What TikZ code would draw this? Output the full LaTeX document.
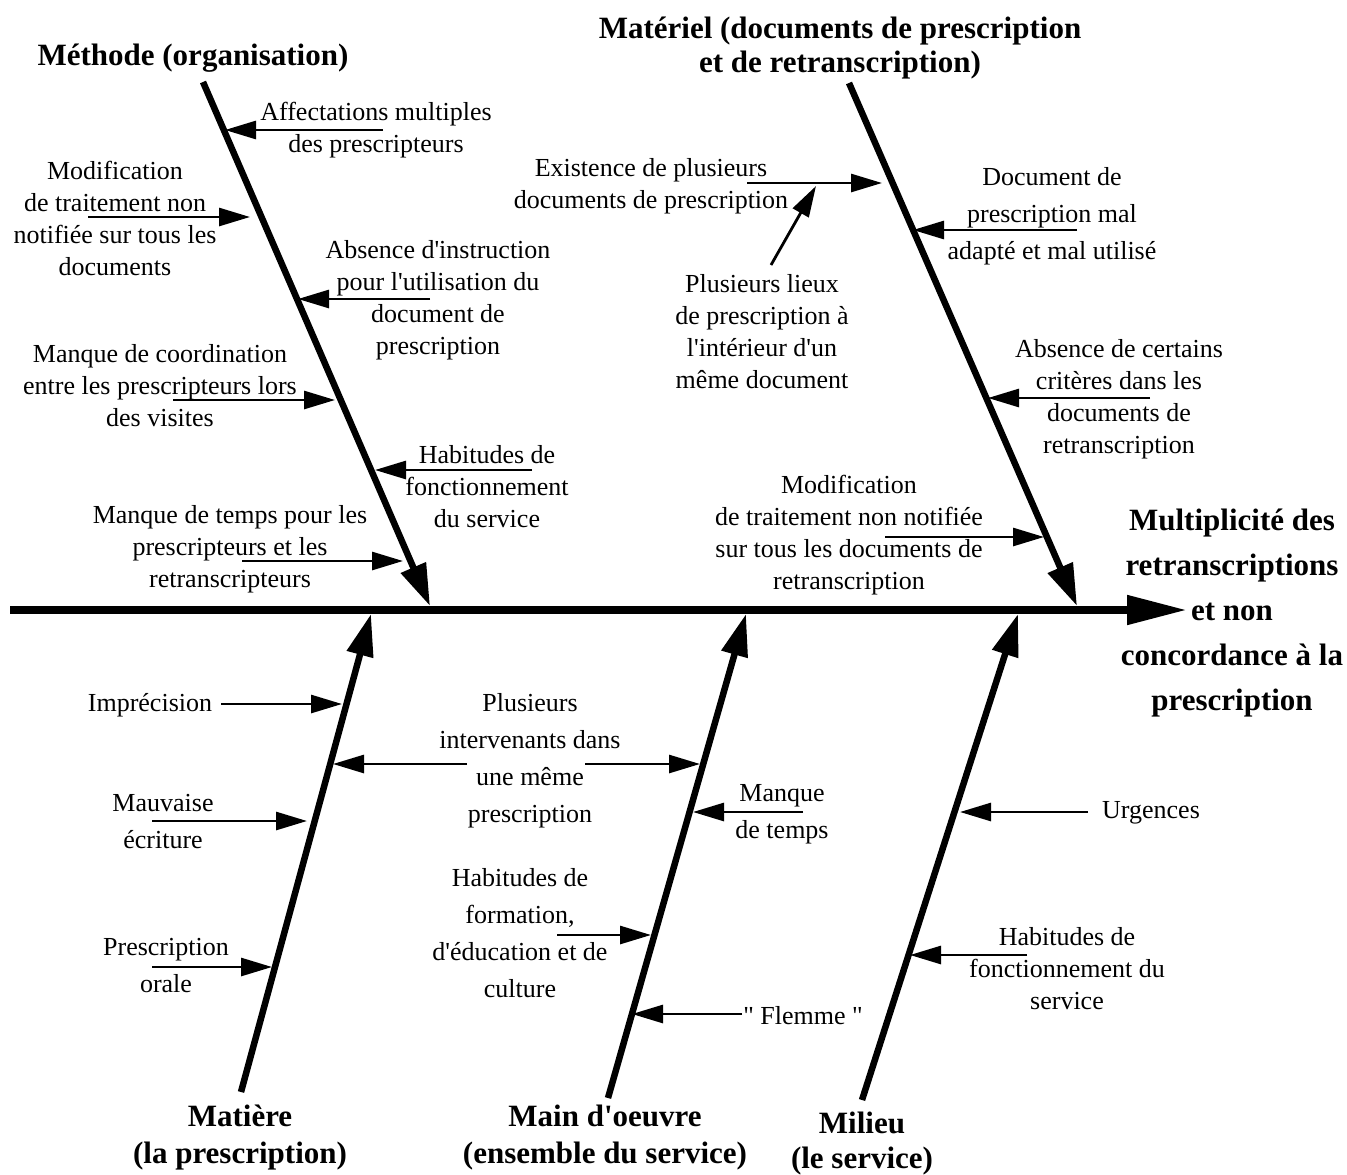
\documentclass[tikz,border=0pt]{standalone}
\usepackage{fontspec}
\setmainfont{Liberation Serif}
\usetikzlibrary{arrows.meta}
\newcommand\ap{\textquotesingle}
\begin{document}
\begin{tikzpicture}[x=1pt,y=-1pt,
  lab/.style={align=center,inner sep=0pt,font=\fontsize{26}{32}\selectfont},
  labw/.style={align=center,inner sep=0pt,font=\fontsize{26}{37}\selectfont},
  title/.style={align=center,inner sep=0pt,font=\bfseries\fontsize{31}{34}\selectfont},
  cause/.style={line width=2.8pt,-{Triangle[length=31pt,width=18pt]}},
  bone/.style={line width=6.5pt,-{Triangle[length=42pt,width=26pt]}},
  spine/.style={line width=8pt,-{Triangle[length=60pt,width=28pt]}}]
\useasboundingbox (0,0) rectangle (1347,1175);
\fill[white] (0,0) rectangle (1347,1175);

% spine and bones
\coordinate (sp0) at (10,610);
\coordinate (sp1) at (1187,610);
\draw[spine] (sp0) -- (sp1);

\coordinate (tl0) at (203,82);   \coordinate (tl1) at (430,606);
\coordinate (tr0) at (849,83);   \coordinate (tr1) at (1077,606);
\coordinate (bl0) at (241,1092); \coordinate (bl1) at (371,614);
\coordinate (bm0) at (608,1098); \coordinate (bm1) at (746,614);
\coordinate (br0) at (862,1100); \coordinate (br1) at (1018,614);
\draw[bone] (tl0) -- (tl1);
\draw[bone] (tr0) -- (tr1);
\draw[bone] (bl0) -- (bl1);
\draw[bone] (bm0) -- (bm1);
\draw[bone] (br0) -- (br1);

% titles
\node[title] (tMeth) at (193,58) {Méthode (organisation)};
\node[title] (tMat) at (840,48) {Matériel (documents de prescription\\et de retranscription)};
\node[title,font=\bfseries\fontsize{31}{45}\selectfont] (tEff) at (1232,613) {Multiplicité des\\retranscriptions\\et non\\concordance à la\\prescription};
\node[title,font=\bfseries\fontsize{31}{37}\selectfont] (tMatiere) at (240,1138) {Matière\\(la prescription)};
\node[title,font=\bfseries\fontsize{31}{37}\selectfont] (tMain) at (605,1138) {Main d\ap oeuvre\\(ensemble du service)};
\node[title,font=\bfseries\fontsize{31}{35}\selectfont] (tMil) at (862,1144) {Milieu\\(le service)};

% Méthode
\node[lab] (n1) at (376,130) {Affectations multiples\\des prescripteurs};
\node[lab] (n2) at (115,218) {Modification\\de traitement non\\notifiée sur tous les\\documents};
\node[lab] (n3) at (438,300) {Absence d\ap instruction\\pour l\ap utilisation du\\document de\\prescription};
\node[lab] (n4) at (160,386) {Manque de coordination\\entre les prescripteurs lors\\des visites};
\node[lab] (n5) at (487,487) {Habitudes de\\fonctionnement\\du service};
\node[lab] (n6) at (230,549) {Manque de temps pour les\\prescripteurs et les\\retranscripteurs};
\coordinate (a1s) at (383,130); \coordinate (a1e) at (225,130);
\coordinate (a2s) at (88,217);  \coordinate (a2e) at (250,217);
\coordinate (a3s) at (430,299); \coordinate (a3e) at (298,299);
\coordinate (a4s) at (173,400); \coordinate (a4e) at (335,400);
\coordinate (a5s) at (532,470); \coordinate (a5e) at (375,470);
\coordinate (a6s) at (242,561); \coordinate (a6e) at (403,561);
\draw[cause] (a1s) -- (a1e);
\draw[cause] (a2s) -- (a2e);
\draw[cause] (a3s) -- (a3e);
\draw[cause] (a4s) -- (a4e);
\draw[cause] (a5s) -- (a5e);
\draw[cause] (a6s) -- (a6e);

% Matériel
\node[lab] (m1) at (651,186) {Existence de plusieurs\\documents de prescription};
\node[lab] (m1b) at (762,332) {Plusieurs lieux\\de prescription à\\l\ap intérieur d\ap un\\même document};
\node[labw] (m2) at (1052,216) {Document de\\prescription mal\\adapté et mal utilisé};
\node[lab] (m3) at (1119,399) {Absence de certains\\critères dans les\\documents de\\retranscription};
\node[lab] (m4) at (849,535) {Modification\\de traitement non notifiée\\sur tous les documents de\\retranscription};
\coordinate (b1s) at (747,183); \coordinate (b1e) at (882,183);
\coordinate (b1bs) at (771,265); \coordinate (b1be) at (816,186);
\coordinate (b2s) at (1077,230); \coordinate (b2e) at (913,230);
\coordinate (b3s) at (1150,398); \coordinate (b3e) at (988,398);
\coordinate (b4s) at (885,537); \coordinate (b4e) at (1044,537);
\draw[cause] (b1s) -- (b1e);
\draw[cause] (b1bs) -- (b1be);
\draw[cause] (b2s) -- (b2e);
\draw[cause] (b3s) -- (b3e);
\draw[cause] (b4s) -- (b4e);

% Matière
\node[lab] (c1) at (150,705) {Imprécision};
\node[labw] (c2) at (163,822) {Mauvaise\\écriture};
\node[labw] (c3) at (166,966) {Prescription\\orale};
\node[labw] (cs) at (530,761) {Plusieurs\\intervenants dans\\une même\\prescription};
\coordinate (c1s) at (221,704); \coordinate (c1e) at (342,704);
\coordinate (c2s) at (152,821); \coordinate (c2e) at (307,821);
\coordinate (c3s) at (152,967); \coordinate (c3e) at (272,967);
\coordinate (csl) at (467,764); \coordinate (csle) at (333,764);
\coordinate (csr) at (585,764); \coordinate (csre) at (700,764);
\draw[cause] (c1s) -- (c1e);
\draw[cause] (c2s) -- (c2e);
\draw[cause] (c3s) -- (c3e);
\draw[cause] (csl) -- (csle);
\draw[cause] (csr) -- (csre);

% Main d'oeuvre
\node[labw] (d1) at (782,814) {Manque\\de temps};
\node[labw] (d2) at (520,933) {Habitudes de\\formation,\\d\ap éducation et de\\culture};
\node[lab] (d3) at (803,1016) {\textquotedbl{} Flemme \textquotedbl};
\coordinate (d1s) at (803,812); \coordinate (d1e) at (693,812);
\coordinate (d2s) at (557,935); \coordinate (d2e) at (651,935);
\coordinate (d3s) at (742,1014); \coordinate (d3e) at (632,1014);
\draw[cause] (d1s) -- (d1e);
\draw[cause] (d2s) -- (d2e);
\draw[cause] (d3s) -- (d3e);

% Milieu
\node[lab] (e1) at (1151,813) {Urgences};
\node[lab] (e2) at (1067,969) {Habitudes de\\fonctionnement du\\service};
\coordinate (e1s) at (1088,812); \coordinate (e1e) at (960,812);
\coordinate (e2s) at (1027,955); \coordinate (e2e) at (910,955);
\draw[cause] (e1s) -- (e1e);
\draw[cause] (e2s) -- (e2e);
\end{tikzpicture}
\end{document}
